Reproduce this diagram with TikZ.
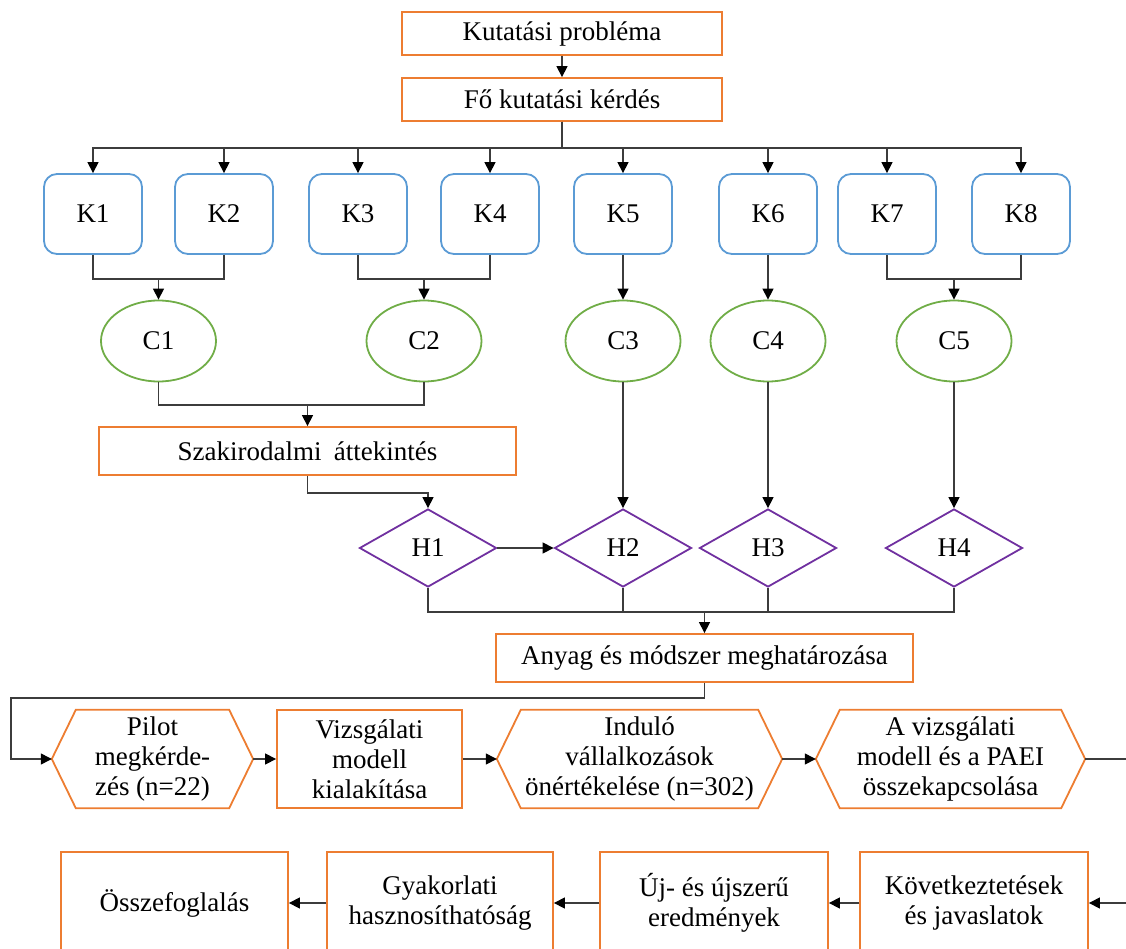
\documentclass[tikz,border=0pt]{standalone}
\usepackage{fontspec}
\setmainfont{Liberation Serif}
\usetikzlibrary{arrows.meta,shapes.geometric}
\definecolor{orng}{RGB}{237,125,49}
\definecolor{blu}{RGB}{91,155,213}
\definecolor{grn}{RGB}{112,173,71}
\definecolor{purp}{RGB}{112,48,160}
\definecolor{ln}{RGB}{60,60,60}
\newcommand\hexdraw[1]{\draw[draw=orng,line width=1.8pt] (#1.west) -- ([xshift=24pt]#1.north west) -- ([xshift=-24pt]#1.north east) -- (#1.east) -- ([xshift=-24pt]#1.south east) -- ([xshift=24pt]#1.south west) -- cycle;}
\begin{document}
\begin{tikzpicture}[x=1pt,y=-1pt,
  every node/.style={font=\fontsize{27}{30}\selectfont, align=center, inner sep=0pt},
  obox/.style={draw=orng, line width=1.8pt, rectangle},
  kbox/.style={draw=blu, line width=1.8pt, rectangle, rounded corners=13pt, minimum width=98pt, minimum height=80pt},
  cell/.style={draw=grn, line width=1.8pt, ellipse, minimum width=115pt, minimum height=81pt},
  hdia/.style={draw=purp, line width=1.8pt, diamond, minimum width=137pt, minimum height=78pt},
  hexnode/.style={rectangle, minimum height=98pt},
  conn/.style={draw=ln, line width=1.3pt},
  arr/.style={conn, -{Triangle[length=11pt,width=11pt,color=black]}}
]
\useasboundingbox (0,0) rectangle (1126,949);
\clip (0,0) rectangle (1126,949);

% top
\node[obox, minimum width=320pt, minimum height=43pt] (P) at (562,33.5) {Kutatási probléma};
\node[obox, minimum width=320pt, minimum height=43pt] (F) at (562,99.5) {Fő kutatási kérdés};

% K boxes
\node[kbox] (K1) at (93,214) {K1};
\node[kbox] (K2) at (224,214) {K2};
\node[kbox] (K3) at (358,214) {K3};
\node[kbox] (K4) at (490,214) {K4};
\node[kbox] (K5) at (623,214) {K5};
\node[kbox] (K6) at (768,214) {K6};
\node[kbox] (K7) at (887,214) {K7};
\node[kbox] (K8) at (1021,214) {K8};

% C ellipses
\node[cell] (C1) at (158.5,341) {C1};
\node[cell] (C2) at (424,341) {C2};
\node[cell] (C3) at (623,341) {C3};
\node[cell] (C4) at (768,341) {C4};
\node[cell] (C5) at (954,341) {C5};

% literature
\node[obox, minimum width=417pt, minimum height=48pt] (S) at (307.5,451) {Szakirodalmi\hspace{0.45em}áttekintés};

% H diamonds
\node[hdia] (H1) at (428,548) {H1};
\node[hdia] (H2) at (623,548) {H2};
\node[hdia] (H3) at (768,548) {H3};
\node[hdia] (H4) at (954,548) {H4};

% method
\node[obox, minimum width=417pt, minimum height=48pt] (A) at (704.5,658) {Anyag és módszer meghatározása};

% hexagon row
\node[hexnode, minimum width=201pt] (Pi) at (152.5,759) {Pilot\\megkérde-\\zés (n=22)};
\hexdraw{Pi}
\node[obox, minimum width=185pt, minimum height=98pt] (V) at (369.5,759) {Vizsgálati\\modell\\kialakítása};
\node[hexnode, minimum width=285pt] (I) at (639.5,759) {Induló\\vállalkozások\\önértékelése (n=302)};
\hexdraw{I}
\node[hexnode, minimum width=269pt] (AV) at (950.5,759) {A vizsgálati\\modell és a PAEI\\összekapcsolása};
\hexdraw{AV}

% bottom row
\node[obox, minimum width=227pt, minimum height=102pt] (O) at (174.5,903) {Összefoglalás};
\node[obox, minimum width=226pt, minimum height=102pt] (G) at (440,903) {Gyakorlati\\hasznosíthatóság};
\node[obox, minimum width=228pt, minimum height=102pt] (U) at (714,903) {Új- és újszerű\\eredmények};
\node[obox, minimum width=228pt, minimum height=102pt] (KJ) at (974,903) {Következtetések\\és javaslatok};

% helper coordinates
\coordinate (bus) at (0,148);
\coordinate (kj) at (0,279);
\coordinate (cj) at (0,405);
\coordinate (hj) at (0,612);
\coordinate (lx) at (11,0);
\coordinate (outA) at (1132,759);
\coordinate (outB) at (1132,903);

% connectors
\draw[arr] (P.south) -- (F.north);
\foreach \k in {K1,K2,K3,K4,K5,K6,K7,K8}
  \draw[arr] (F.south) -- (F.south |- bus) -| (\k.north);

\draw[conn] (K1.south) -- (K1.south |- kj) -- (K2.south |- kj) -- (K2.south);
\draw[arr] (C1.north |- kj) -- (C1.north);
\draw[conn] (K3.south) -- (K3.south |- kj) -- (K4.south |- kj) -- (K4.south);
\draw[arr] (C2.north |- kj) -- (C2.north);
\draw[conn] (K7.south) -- (K7.south |- kj) -- (K8.south |- kj) -- (K8.south);
\draw[arr] (C5.north |- kj) -- (C5.north);
\draw[arr] (K5.south) -- (C3.north);
\draw[arr] (K6.south) -- (C4.north);

\draw[conn] (C1.south) -- (C1.south |- cj) -- (C2.south |- cj) -- (C2.south);
\draw[arr] (S.north |- cj) -- (S.north);

\draw[arr] (S.south) -- ++(0,17) -| (H1.north);
\draw[arr] (H1.east) -- (H2.west);
\draw[arr] (C3.south) -- (H2.north);
\draw[arr] (C4.south) -- (H3.north);
\draw[arr] (C5.south) -- (H4.north);

\draw[conn] (H1.south) -- (H1.south |- hj) -- (H4.south |- hj) -- (H4.south);
\draw[conn] (H2.south) -- (H2.south |- hj);
\draw[conn] (H3.south) -- (H3.south |- hj);
\draw[arr] (A.north |- hj) -- (A.north);

\draw[arr] (A.south) -- ++(0,15) -| (lx |- Pi.west) -- (Pi.west);
\draw[arr] (Pi.east) -- (V.west);
\draw[arr] (V.east) -- (I.west);
\draw[arr] (I.east) -- (AV.west);
\draw[conn] (AV.east) -- (outA);

\draw[arr] (outB) -- (KJ.east);
\draw[arr] (KJ.west) -- (U.east);
\draw[arr] (U.west) -- (G.east);
\draw[arr] (G.west) -- (O.east);
\end{tikzpicture}
\end{document}
